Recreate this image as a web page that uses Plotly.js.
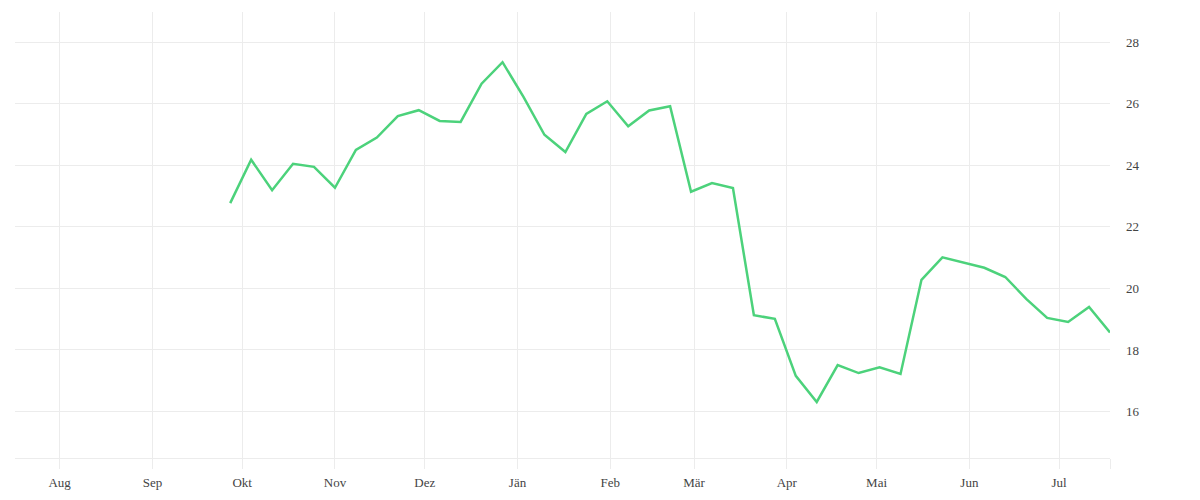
<!DOCTYPE html>
<html>
<head>
<meta charset="utf-8">
<script src="https://cdn.plot.ly/plotly-3.0.1.min.js"></script>
<style>html,body{margin:0;padding:0;background:#fff;}#chart{width:1200px;height:500px;}</style>
</head>
<body>
<div id="chart"></div>
<script>
const startDate = '2022-09-27';
const values = [
  22.77, 24.18, 23.19, 24.05, 23.95, 23.27, 24.50, 24.90, 25.60, 25.79,
  25.44, 25.41, 26.65, 27.35, 26.22, 24.99, 24.43, 25.67, 26.08, 25.27,
  25.78, 25.92, 23.14, 23.42, 23.26, 19.13, 19.01, 17.16, 16.31, 17.51,
  17.25, 17.44, 17.22, 20.28, 21.01, 20.84, 20.67, 20.37, 19.66, 19.04,
  18.91, 19.40, 18.57
];
const monthTickVals = ['2022-08-01','2022-09-01','2022-10-01','2022-11-01','2022-12-01','2023-01-01',
  '2023-02-01','2023-03-01','2023-04-01','2023-05-01','2023-06-01','2023-07-01'];
const monthTickText = ['Aug','Sep','Okt','Nov','Dez','Jän','Feb','Mär','Apr','Mai','Jun','Jul'];
const yTickVals = [16, 18, 20, 22, 24, 26, 28];
const xRange = ['2022-07-17 02:00', '2023-07-18'];
const yRange = [14.49, 28.98];

// build weekly date strings
const dates = [];
const d0 = new Date(startDate + 'T00:00:00Z');
for (let i = 0; i < values.length; i++) {
  const d = new Date(d0.getTime() + i * 7 * 86400000);
  dates.push(d.toISOString().slice(0, 10));
}

const gridCol = '#ececec';
const fontFam = '"Liberation Serif", "DejaVu Serif", serif';

const trace = {
  x: dates,
  y: values,
  type: 'scatter',
  mode: 'lines',
  line: {color: '#4cd27b', width: 2.5},
  hoverinfo: 'x+y'
};

const layout = {
  width: 1200,
  height: 500,
  margin: {l: 15, r: 89.5, t: 12, b: 41.7},
  paper_bgcolor: '#ffffff',
  plot_bgcolor: '#ffffff',
  showlegend: false,
  font: {family: fontFam, size: 13, color: '#444'},
  xaxis: {
    type: 'date',
    range: xRange,
    tickmode: 'array',
    tickvals: monthTickVals.concat([xRange[1]]),
    ticktext: monthTickText.concat(['']),
    showgrid: true,
    gridcolor: gridCol,
    gridwidth: 1,
    zeroline: false,
    showline: true,
    linecolor: gridCol,
    linewidth: 1,
    ticks: 'outside',
    ticklen: 10,
    tickcolor: gridCol,
    tickwidth: 1,
    ticklabelstandoff: 2,
    tickfont: {family: fontFam, size: 13, color: '#444'}
  },
  yaxis: {
    side: 'right',
    range: yRange,
    tickmode: 'array',
    tickvals: yTickVals,
    ticktext: yTickVals.map(String),
    showgrid: true,
    gridcolor: gridCol,
    gridwidth: 1,
    zeroline: false,
    showline: false,
    ticks: '',
    ticklabelstandoff: 15,
    tickfont: {family: fontFam, size: 13, color: '#444'}
  }
};

Plotly.newPlot('chart', [trace], layout, {displayModeBar: false, staticPlot: true});
</script>
</body>
</html>
